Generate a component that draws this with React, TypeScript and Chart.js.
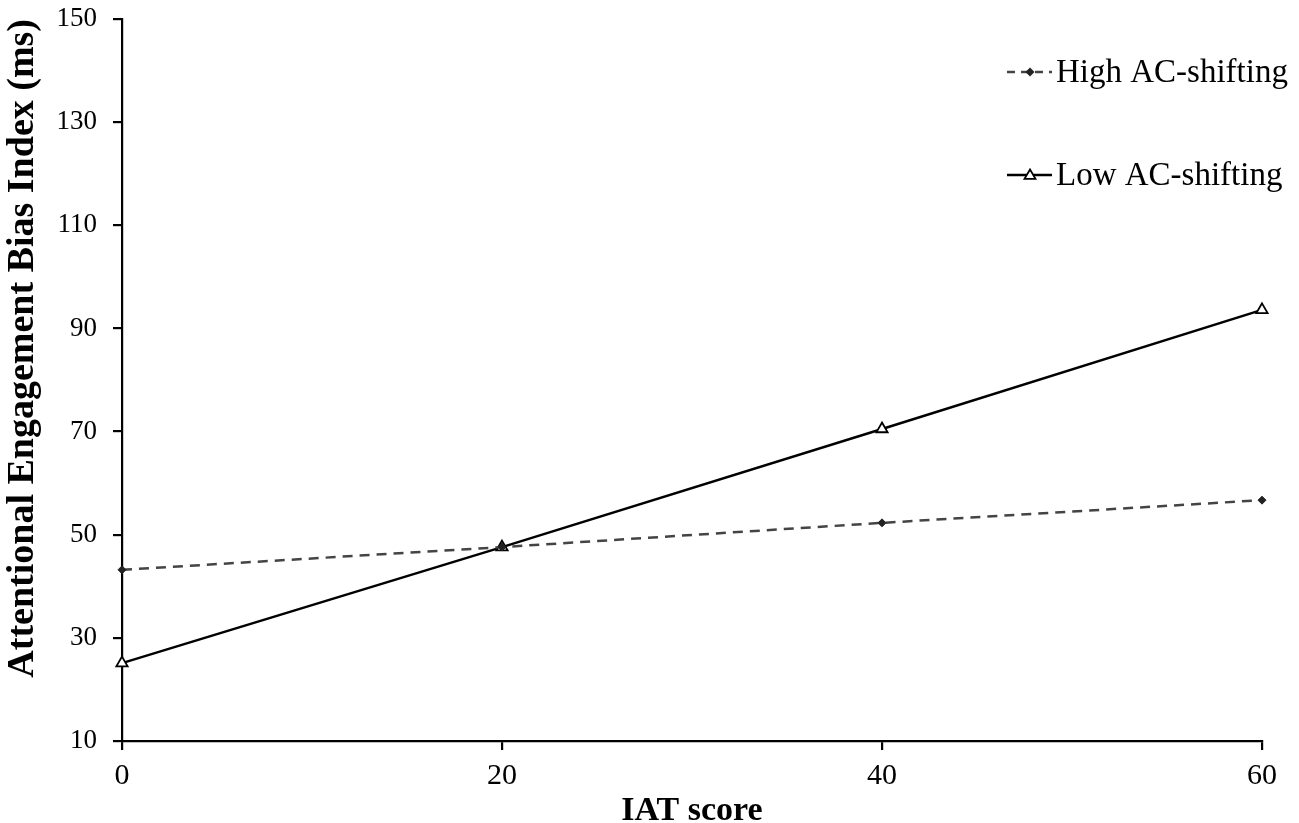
import React, { useEffect, useRef } from "react";
import { Chart, registerables } from "chart.js";

Chart.register(...registerables);

const iatScores = [0, 20, 40, 60];
const highShifting = [43.2, 47.6, 52.3, 56.7];
const lowShifting = [25.1, 47.6, 70.5, 93.6];
const yTicks = [10, 30, 50, 70, 90, 110, 130, 150];
const xTicks = [0, 20, 40, 60];
const seriesNames = ["High AC-shifting", "Low AC-shifting"];

const SERIF = "'Liberation Serif', 'Times New Roman', serif";

const legendPlugin = {
  id: "customLegend",
  afterDraw(chart: any) {
    const ctx = chart.ctx;
    const items = [
      { y: 72, ds: chart.data.datasets[0], label: seriesNames[0] },
      { y: 175, ds: chart.data.datasets[1], label: seriesNames[1] },
    ];
    ctx.save();
    items.forEach((it) => {
      const x0 = 1007;
      const x1 = 1052;
      const mx = 1030;
      ctx.strokeStyle = it.ds.borderColor;
      ctx.lineWidth = 2.4;
      ctx.setLineDash(it.ds.borderDash ? [8, 6] : []);
      ctx.beginPath();
      ctx.moveTo(x0, it.y);
      ctx.lineTo(x1, it.y);
      ctx.stroke();
      ctx.setLineDash([]);
      if (it.ds.pointStyle === "triangle") {
        const r = 5.5;
        ctx.fillStyle = "#fff";
        ctx.strokeStyle = "#000";
        ctx.lineWidth = 1.8;
        ctx.beginPath();
        ctx.moveTo(mx, it.y - r);
        ctx.lineTo(mx + r, it.y + r * 0.7);
        ctx.lineTo(mx - r, it.y + r * 0.7);
        ctx.closePath();
        ctx.fill();
        ctx.stroke();
      } else {
        const r = 4.5;
        ctx.fillStyle = it.ds.pointBackgroundColor;
        ctx.beginPath();
        ctx.moveTo(mx, it.y - r);
        ctx.lineTo(mx + r, it.y);
        ctx.lineTo(mx, it.y + r);
        ctx.lineTo(mx - r, it.y);
        ctx.closePath();
        ctx.fill();
      }
      ctx.fillStyle = "#000";
      ctx.font = `33px ${SERIF}`;
      ctx.textBaseline = "middle";
      ctx.textAlign = "left";
      ctx.fillText(it.label, 1056, it.y + 1);
    });
    ctx.restore();
  },
};

export default function App() {
  const ref = useRef<HTMLCanvasElement>(null);
  useEffect(() => {
    document.body.style.margin = "0";
    const canvas = ref.current!;
    const chart = new Chart(canvas, {
      type: "line",
      data: {
        datasets: [
          {
            label: seriesNames[0],
            data: iatScores.map((x, i) => ({ x, y: highShifting[i] })),
            borderColor: "#444",
            borderWidth: 2.5,
            borderDash: [10, 7],
            pointStyle: "rectRot",
            pointRadius: 4,
            pointBackgroundColor: "#222",
            pointBorderColor: "#222",
            pointBorderWidth: 1,
            clip: false,
          },
          {
            label: seriesNames[1],
            data: iatScores.map((x, i) => ({ x, y: lowShifting[i] })),
            borderColor: "#000",
            borderWidth: 2.5,
            pointStyle: "triangle",
            pointRadius: 6.5,
            pointBackgroundColor: "#fff",
            pointBorderColor: "#000",
            pointBorderWidth: 1.8,
            clip: false,
          },
        ],
      },
      options: {
        animation: false,
        responsive: false,
        devicePixelRatio: 1,
        layout: { padding: { top: 19, right: 37, left: 0, bottom: 0 } },
        plugins: { legend: { display: false }, tooltip: { enabled: false } },
        scales: {
          x: {
            type: "linear",
            min: 0,
            max: 60,
            afterFit(scale: any) {
              scale.height = 823 - 741;
              scale.paddingLeft = 0;
              scale.paddingRight = 0;
            },
            afterBuildTicks(scale: any) {
              scale.ticks = xTicks.map((v) => ({ value: v }));
            },
            border: { color: "#000", width: 2.2 },
            grid: {
              drawOnChartArea: false,
              drawTicks: true,
              tickLength: 9,
              tickColor: "#000",
              lineWidth: 2.2,
            },
            ticks: {
              color: "#000",
              font: { family: SERIF, size: 30 },
              padding: 8,
              maxRotation: 0,
            },
            title: {
              display: true,
              text: "IAT score",
              color: "#000",
              font: { family: SERIF, size: 34, weight: "bold" },
              padding: { top: 0, bottom: -9 },
            },
          },
          y: {
            type: "linear",
            min: 10,
            max: 150,
            afterFit(scale: any) {
              scale.width = 122;
              scale.paddingTop = 0;
              scale.paddingBottom = 0;
            },
            afterBuildTicks(scale: any) {
              scale.ticks = yTicks.map((v) => ({ value: v }));
            },
            border: { color: "#000", width: 2.2 },
            grid: {
              drawOnChartArea: false,
              drawTicks: true,
              tickLength: 9,
              tickColor: "#000",
              lineWidth: 2.2,
            },
            ticks: {
              color: "#000",
              font: { family: SERIF, size: 27 },
              padding: 16,
            },
            title: {
              display: true,
              text: "Attentional Engagement Bias Index (ms)",
              color: "#000",
              align: "end",
              font: { family: SERIF, size: 38, weight: "bold" },
              padding: { top: 0, bottom: 0 },
            },
          },
        },
      },
      plugins: [legendPlugin],
    } as any);
    return () => chart.destroy();
  }, []);
  return <canvas ref={ref} width={1299} height={823} style={{ display: "block" }} />;
}
